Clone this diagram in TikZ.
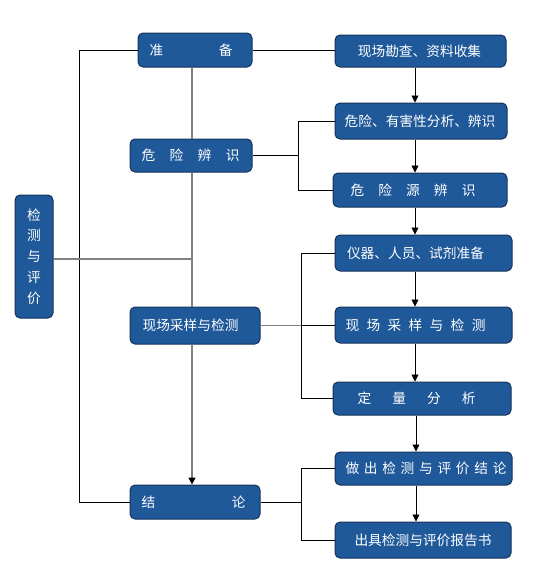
\documentclass[tikz,border=0pt]{standalone}
\usepackage{fontspec}
\newfontfamily\cjk{Noto Sans CJK SC}
\usetikzlibrary{arrows.meta}
\definecolor{boxfill}{RGB}{31,89,154}
\definecolor{boxline}{RGB}{22,52,92}
\definecolor{lgray}{RGB}{128,128,128}
\newcommand\bt[3]{\makebox[0pt]{\hspace*{#1}\makebox[#2]{#3}}}
\begin{document}
\begin{tikzpicture}[x=1pt,y=-1pt,
  box/.style={draw=boxline, line width=1pt, fill=boxfill, rounded corners=5pt,
    inner sep=0pt, text=white, font=\cjk\fontsize{13.7}{16}\selectfont},
  blk/.style={draw=black, line width=0.8pt},
  gry/.style={draw=lgray, line width=1.6pt},
  tipa/.style={-{Triangle[width=7pt,length=7pt,color=black]}}]
\useasboundingbox (0,0) rectangle (544,582);
% left column
\node[box, minimum width=38pt, minimum height=123pt, align=center,
      font=\cjk\fontsize{13.7}{20.8}\selectfont] (L) at (34,256.5) {检\\测\\与\\评\\价};
\node[box, minimum width=114pt, minimum height=34pt] (prep) at (195,50) {\bt{-8pt}{83pt}{准\hfill 备}};
\node[box, minimum width=122pt, minimum height=33pt] (risk) at (191,155.5) {\bt{-1pt}{98pt}{危\hfill 险\hfill 辨\hfill 识}};
\node[box, minimum width=130pt, minimum height=37pt] (samp) at (195,325.5) {\bt{-9pt}{98pt}{现场采样与检测}};
\node[box, minimum width=130pt, minimum height=34pt] (conc) at (195,502) {\bt{-3pt}{104pt}{结\hfill 论}};
% right column
\node[box, minimum width=171pt, minimum height=32pt] (r1) at (420.5,51) {\bt{-2pt}{126pt}{现场勘查、资料收集}};
\node[box, minimum width=172pt, minimum height=36pt] (r2) at (421,121) {\bt{-2pt}{151pt}{危险、有害性分析、辨识}};
\node[box, minimum width=174pt, minimum height=34pt] (r3) at (420,190) {\bt{-14pt}{125pt}{危\hfill 险\hfill 源\hfill 辨\hfill 识}};
\node[box, minimum width=177pt, minimum height=36pt] (r4) at (423.5,253) {\bt{-16pt}{140pt}{仪器、人员、试剂准备}};
\node[box, minimum width=177pt, minimum height=36pt] (r5) at (423.5,325) {\bt{-16pt}{140pt}{现\hfill 场\hfill 采\hfill 样\hfill 与\hfill 检\hfill 测}};
\node[box, minimum width=178pt, minimum height=33pt] (r6) at (422,398.5) {\bt{-11pt}{118pt}{定\hfill 量\hfill 分\hfill 析}};
\node[box, minimum width=177pt, minimum height=33pt] (r7) at (423.5,468.5) {\bt{5pt}{161pt}{做\hfill 出\hfill 检\hfill 测\hfill 与\hfill 评\hfill 价\hfill 结\hfill 论}};
\node[box, minimum width=176pt, minimum height=36pt] (r8) at (423,540) {\bt{0pt}{141pt}{出具检测与评价报告书}};
% helper coordinates
\coordinate (lb1) at (79,50);
\coordinate (lb2) at (79,502);
\coordinate (cx) at (192,0);
\coordinate (lj) at (192,259);
\coordinate (b1) at (298,155.5);
\coordinate (b2) at (301,325.5);
\coordinate (b3) at (301,502);
\coordinate (ax) at (415,0);
\coordinate (ay) at (416,0);
% left bracket
\draw[blk] (prep.west) -- (lb1) -- (lb2) -- (conc.west);
% central spine
\draw[gry] (prep.south -| cx) -- (risk.north -| cx);
\draw[gry] (risk.south -| cx) -- (samp.north -| cx);
\draw[gry, tipa] (samp.south -| cx) -- (conc.north -| cx);
\draw[gry] (L.east |- lj) -- (lj);
% to right column
\draw[blk] (prep.east) -- (prep.east -| r1.west);
\draw[blk] (risk.east) -- (b1);
\draw[blk] (r2.west) -- (r2.west -| b1) -- (r3.west -| b1) -- (r3.west);
\draw[lgray, line width=1pt] (samp.east) -- (b2);
\draw[blk] (r4.west) -- (r4.west -| b2) -- (r6.west -| b2) -- (r6.west);
\draw[blk] (b2) -- (b2 -| r5.west);
\draw[blk] (conc.east) -- (b3);
\draw[blk] (r7.west) -- (r7.west -| b3) -- (r8.west -| b3) -- (r8.west);
% right arrows
\draw[blk, tipa] (r1.south -| ax) -- (r2.north -| ax);
\draw[blk, tipa] (r2.south -| ax) -- (r3.north -| ax);
\draw[blk, tipa] (r3.south -| ax) -- (r4.north -| ax);
\draw[blk, tipa] (r4.south -| ax) -- (r5.north -| ax);
\draw[blk, tipa] (r5.south -| ax) -- (r6.north -| ax);
\draw[blk, tipa] (r6.south -| ay) -- (r7.north -| ay);
\draw[blk, tipa] (r7.south -| ay) -- (r8.north -| ay);
\end{tikzpicture}
\end{document}
